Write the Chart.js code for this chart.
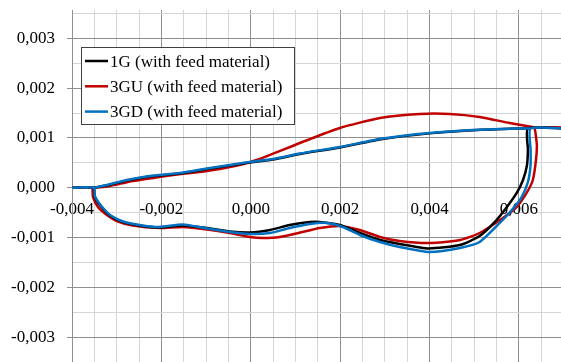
<!DOCTYPE html>
<html>
<head>
<meta charset="utf-8">
<script src="https://cdn.jsdelivr.net/npm/chart.js@4.4.0/dist/chart.umd.min.js"></script>
<style>
  html, body { margin: 0; padding: 0; background: #ffffff; }
  #wrap { width: 561px; height: 362px; }
</style>
</head>
<body>
<div id="wrap"><canvas id="c" width="561" height="362"></canvas></div>
<script>
// Series names and colours
const seriesNames = ['1G (with feed material)', '3GU (with feed material)', '3GD (with feed material)'];
const seriesColors = ['#000000', '#c00000', '#0070c0'];

// 1G: lower branch + right rise, then (after the gap) the upper return branch
const g1X = [-0.004, -0.00352, -0.00349, -0.00338, -0.00315, -0.00286, -0.00242, -0.00204, -0.00152, -0.00098,
  -0.00047, -0.00002, 0.00043, 0.00087, 0.00132, 0.00154, 0.00199, 0.00244, 0.00289, 0.00333,
  0.00398, 0.00468, 0.00512, 0.00546, 0.00573, 0.00595, 0.00609, 0.00618, 0.0062, 0.0062, 0.007,
  null,
  0.0062, 0.00595, 0.00497, 0.004, 0.00295, 0.00199, 0.0011, 0.00049, -0.00025, -0.00098,
  -0.00159, -0.00226, -0.00277, -0.00322, -0.00352];
const g1Y = [0, 0, -0.000185, -0.000345, -0.000556, -0.000686, -0.000767, -0.000797, -0.000757, -0.000807,
  -0.000877, -0.000897, -0.000847, -0.000747, -0.000686, -0.000686, -0.000747, -0.000907, -0.001048, -0.001128,
  -0.001218, -0.001148, -0.000969, -0.000686, -0.000385, -0.000104, 0.000157, 0.000458, 0.000759, 0.00119, 0.00119,
  null,
  0.00119, 0.00119, 0.001155, 0.001092, 0.000979, 0.000809, 0.000678, 0.000568, 0.000478, 0.000377,
  0.000288, 0.000228, 0.000148, 0.00005, 0];

// 3GU
const g3uX = [-0.004, -0.00356, -0.00353, -0.00342, -0.00322, -0.003, -0.00264, -0.00204, -0.00152, -0.00098,
  -0.00047, -0.00002, 0.00027, 0.00065, 0.00116, 0.00154, 0.00199, 0.00244, 0.00289, 0.00333,
  0.004, 0.00468, 0.00512, 0.00564, 0.00595, 0.00617, 0.00631, 0.00638, 0.0064, 0.00637, 0.00636, 0.007,
  null,
  0.00636, 0.00579, 0.00512, 0.00445, 0.00378, 0.00289, 0.00199, 0.0011, 0.00013, -0.00025,
  -0.00098, -0.00174, -0.00204, -0.00264, -0.00315, -0.00338, -0.00356];
const g3uY = [0, 0, -0.000185, -0.000385, -0.000546, -0.000666, -0.000757, -0.000807, -0.000787, -0.000837,
  -0.000907, -0.000987, -0.001007, -0.000987, -0.000887, -0.000807, -0.000767, -0.000847, -0.000987, -0.001068,
  -0.001108, -0.001048, -0.000907, -0.000606, -0.000385, -0.000104, 0.000157, 0.000558, 0.000859, 0.0011, 0.00121, 0.00121,
  null,
  0.00121, 0.0013, 0.001421, 0.001481, 0.001481, 0.001401, 0.0012, 0.000899, 0.000558, 0.000458,
  0.000337, 0.000257, 0.000217, 0.000136, 0.000036, 0.00001, 0];

// 3GD
const g3dX = [-0.004, -0.00351, -0.00349, -0.00338, -0.00315, -0.00286, -0.00242, -0.00204, -0.00152, -0.00098,
  -0.00047, -0.00002, 0.00043, 0.00087, 0.00132, 0.0017, 0.00206, 0.00244, 0.00289, 0.00333,
  0.004, 0.00468, 0.00512, 0.00557, 0.00584, 0.00606, 0.0062, 0.00626, 0.00626, 0.00626, 0.007,
  null,
  0.00626, 0.00595, 0.00497, 0.004, 0.00295, 0.00199, 0.0011, 0.00049, -0.00025, -0.00098,
  -0.00159, -0.00226, -0.00277, -0.00322, -0.00351];
const g3dY = [0, 0, -0.000165, -0.000325, -0.000546, -0.000676, -0.000757, -0.000787, -0.000737, -0.000817,
  -0.000887, -0.000927, -0.000907, -0.000807, -0.000726, -0.000706, -0.000787, -0.000947, -0.001088, -0.001188,
  -0.001288, -0.001207, -0.001088, -0.000706, -0.000446, -0.000185, 0.000116, 0.000458, 0.000759, 0.00119, 0.00119,
  null,
  0.00119, 0.00119, 0.00116, 0.0011, 0.000989, 0.000819, 0.000688, 0.000578, 0.000488, 0.000387,
  0.000297, 0.000237, 0.000157, 0.000056, 0];

// Axis tick values and their labels
const xTickValues = [-0.004, -0.002, 0, 0.002, 0.004, 0.006];
const xTickLabels = ['-0,004', '-0,002', '0,000', '0,002', '0,004', '0,006'];
const yTickValues = [-0.003, -0.002, -0.001, 0, 0.001, 0.002, 0.003];
const yTickLabels = ['-0,003', '-0,002', '-0,001', '0,000', '0,001', '0,002', '0,003'];

const FONT = "'Liberation Serif', 'Times New Roman', Tinos, serif";
const MINOR_STEP = 0.0005;
const MAJOR_GRID = '#8f8f8f';
const MINOR_GRID = '#d6d6d6';

function gridValues(lo, hi) {
  const out = [];
  for (let k = Math.ceil(lo / MINOR_STEP - 1e-9); k * MINOR_STEP <= hi + 1e-12; k++) out.push(k * MINOR_STEP);
  return out;
}
function indexOfValue(list, v) {
  return list.findIndex(t => Math.abs(t - v) < 1e-9);
}
function points(xs, ys) {
  return xs.map((x, i) => (x === null ? { x: NaN, y: NaN } : { x: x, y: ys[i] }));
}

const legendBox = {
  id: 'legendBox',
  afterDatasetsDraw(chart) {
    const ctx = chart.ctx;
    ctx.save();
    const L = 81.5, T = 47.5, W = 213, H = 77;
    ctx.fillStyle = '#ffffff';
    ctx.fillRect(L, T, W, H);
    ctx.strokeStyle = '#404040';
    ctx.lineWidth = 1;
    ctx.strokeRect(L, T, W, H);
    ctx.font = '17px ' + FONT;
    ctx.textBaseline = 'alphabetic';
    ctx.textAlign = 'left';
    seriesNames.forEach((name, i) => {
      const y = 61 + i * 25.3;
      ctx.strokeStyle = seriesColors[i];
      ctx.lineWidth = 2.5;
      ctx.beginPath();
      ctx.moveTo(85, y);
      ctx.lineTo(108, y);
      ctx.stroke();
      ctx.fillStyle = '#000000';
      ctx.fillText(name, 110, y + 5.5);
    });
    ctx.restore();
  }
};

function build() {
  const seriesData = [points(g1X, g1Y), points(g3uX, g3uY), points(g3dX, g3dY)];
  const drawOrder = [1, 2, 0];

  new Chart(document.getElementById('c'), {
    type: 'scatter',
    data: {
      datasets: seriesNames.map((name, i) => ({
        label: name,
        data: seriesData[i],
        showLine: true,
        spanGaps: false,
        borderColor: seriesColors[i],
        backgroundColor: seriesColors[i],
        borderWidth: 2.5,
        pointRadius: 0,
        pointHoverRadius: 0,
        tension: 0.2,
        fill: false,
        order: drawOrder[i]
      }))
    },
    options: {
      responsive: false,
      devicePixelRatio: 1,
      animation: false,
      events: [],
      layout: { padding: { top: 10, left: 0, right: 0, bottom: 0 } },
      plugins: { legend: { display: false }, tooltip: { enabled: false } },
      scales: {
        x: {
          type: 'linear',
          min: -0.004,
          max: 0.00694,
          position: { y: 0 },
          afterBuildTicks: s => { s.ticks = gridValues(s.min, s.max).map(v => ({ value: v })); },
          afterFit: s => { s.paddingLeft = 0; s.paddingRight = 0; },
          border: { display: false },
          grid: {
            drawTicks: false,
            lineWidth: 1,
            color: ctx => (indexOfValue(xTickValues, ctx.tick.value) >= 0 ? MAJOR_GRID : MINOR_GRID)
          },
          ticks: {
            autoSkip: false,
            maxRotation: 0,
            minRotation: 0,
            padding: 12,
            color: '#000000',
            font: { family: FONT, size: 17 },
            callback: v => { const i = indexOfValue(xTickValues, v); return i >= 0 ? xTickLabels[i] : ''; }
          }
        },
        y: {
          type: 'linear',
          min: -0.003496,
          max: 0.003568,
          position: 'left',
          afterBuildTicks: s => { s.ticks = gridValues(s.min, s.max).map(v => ({ value: v })); },
          afterFit: s => { s.width = 72; s.paddingTop = 0; s.paddingBottom = 0; },
          border: { display: true, color: MAJOR_GRID, width: 1 },
          grid: {
            drawTicks: true,
            tickLength: 5,
            lineWidth: 1,
            color: ctx => (indexOfValue(yTickValues, ctx.tick.value) >= 0 ? MAJOR_GRID : MINOR_GRID),
            tickColor: ctx => (indexOfValue(yTickValues, ctx.tick.value) >= 0 ? MAJOR_GRID : 'rgba(0,0,0,0)')
          },
          ticks: {
            autoSkip: false,
            padding: 12,
            color: '#000000',
            font: { family: FONT, size: 17 },
            callback: v => { const i = indexOfValue(yTickValues, v); return i >= 0 ? yTickLabels[i] : ''; }
          }
        }
      }
    },
    plugins: [legendBox]
  });
}

if (document.fonts && document.fonts.load) {
  document.fonts.load("17px 'Liberation Serif'").then(build, build);
} else {
  build();
}
</script>
</body>
</html>
